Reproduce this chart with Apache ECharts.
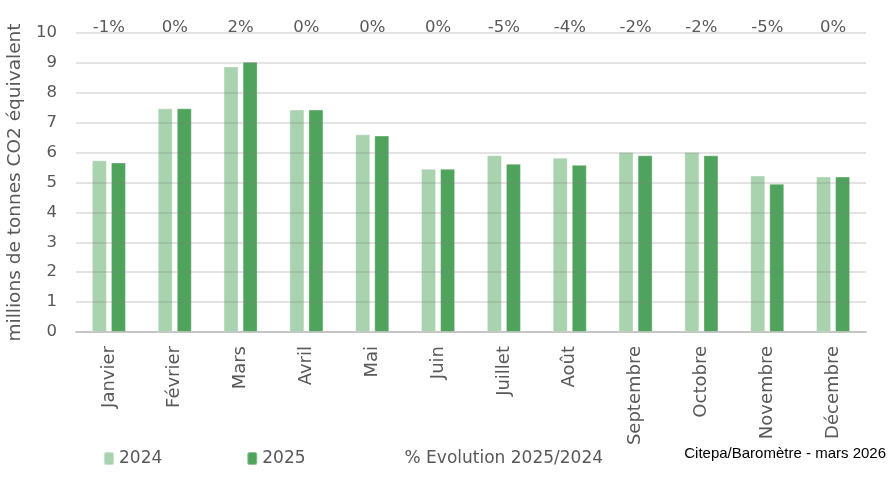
<!DOCTYPE html>
<html><head><meta charset="utf-8">
<script src="https://cdn.jsdelivr.net/npm/echarts@6/dist/echarts.min.js"></script>
<style>html,body{margin:0;padding:0;background:#fff}#c{width:889px;height:491px}</style>
</head><body><div id="c"></div>
<script>
const months = ["Janvier","Février","Mars","Avril","Mai","Juin","Juillet","Août","Septembre","Octobre","Novembre","Décembre"];
const values2024 = [5.74,7.48,8.88,7.44,6.61,5.46,5.91,5.83,6.02,6.02,5.23,5.20];
const values2025 = [5.67,7.48,9.04,7.44,6.57,5.46,5.63,5.59,5.91,5.91,4.96,5.20];
const evolution = ["-1%","0%","2%","0%","0%","0%","-5%","-4%","-2%","-2%","-5%","0%"];
const yTicks = [0,1,2,3,4,5,6,7,8,9,10];

const font = "DejaVu Sans";
const grey = '#595959';
const chart = echarts.init(document.getElementById('c'));
chart.setOption({
  animation:false,
  backgroundColor:'#fff',
  textStyle:{fontFamily:font},
  grid:{left:76,right:23,top:33,bottom:159,outerBoundsMode:'none',containLabel:false},
  legend:{
    left:98, top:445, itemWidth:10, itemHeight:13, itemGap:84,
    textStyle:{color:grey,fontSize:17,fontFamily:font},
    data:[{name:'2024'},{name:'2025'},{name:'% Evolution 2025/2024',icon:'none'}]
  },
  graphic:[{type:'text',right:3,top:446,style:{text:'Citepa/Baromètre - mars 2026',fill:'#000',font:'15px "Liberation Sans Narrow", "Liberation Sans"'}}],
  xAxis:[
    {type:'category',data:months,position:'bottom',
     axisLine:{lineStyle:{color:'#d9d9d9',width:2}},axisTick:{show:false},
     axisLabel:{rotate:90,margin:14,color:grey,fontSize:18,fontFamily:font}},
    {type:'category',data:evolution,position:'top',
     axisLine:{show:false},axisTick:{show:false},
     axisLabel:{margin:-3,color:grey,fontSize:16.5,fontFamily:font}}
  ],
  yAxis:{type:'value',min:0,max:10,interval:1,z:3,
    name:'millions de tonnes CO2 équivalent',nameLocation:'middle',nameGap:50,
    nameTextStyle:{color:grey,fontSize:18.5,fontFamily:font},
    axisLine:{show:false},axisTick:{show:false},
    axisLabel:{color:grey,fontSize:16.5,margin:19,fontFamily:font,
      formatter:v=>yTicks.includes(v)?String(v):''},
    splitLine:{lineStyle:{color:'rgba(128,128,128,0.3)',width:1.6}}
  },
  series:[
    {name:'2024',type:'bar',data:values2024,barWidth:15,barGap:'27%',
     itemStyle:{color:'#a9d2ae',borderColor:'rgba(255,255,255,0.35)',borderWidth:1}},
    {name:'2025',type:'bar',data:values2025,barWidth:15,
     itemStyle:{color:'#4fa35d',borderColor:'rgba(255,255,255,0.35)',borderWidth:1}},
    {name:'% Evolution 2025/2024',type:'line',data:[],itemStyle:{color:'transparent'}}
  ]
});
</script></body></html>
